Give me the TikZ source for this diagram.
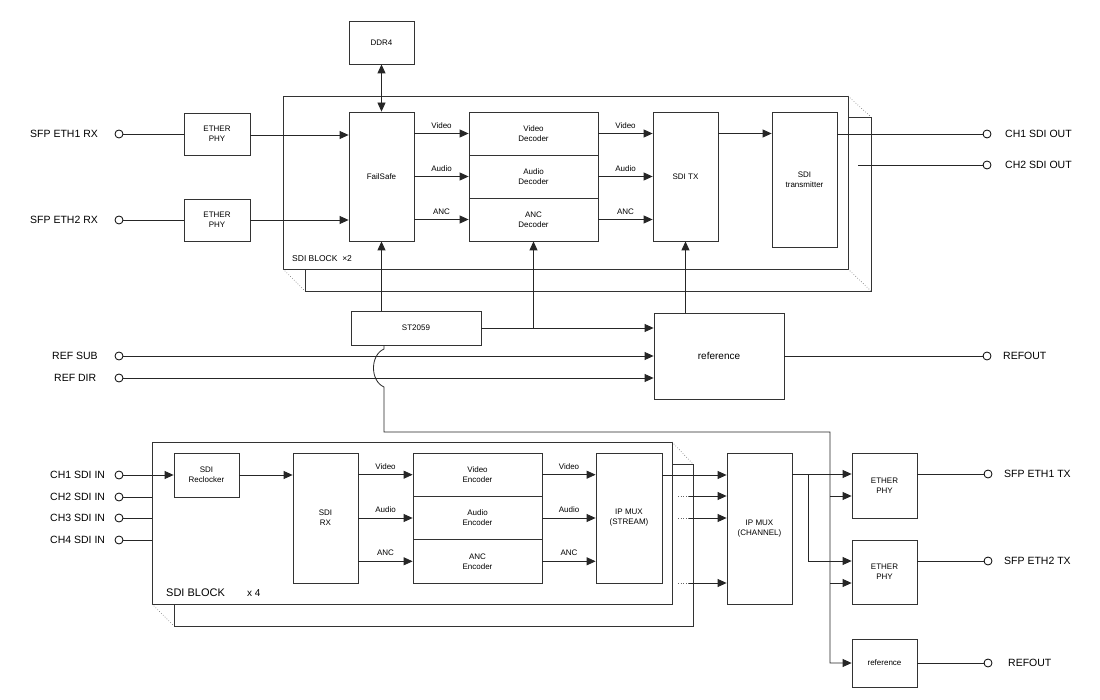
\documentclass[tikz,border=0pt]{standalone}
\usepackage{fontspec}
\setmainfont{Liberation Sans}
\usetikzlibrary{arrows.meta,calc}
\begin{document}
\begin{tikzpicture}[x=1pt,y=-1pt,
  box/.style={draw=black!80,fill=white,line width=0.8pt,inner sep=0pt,align=center,font=\fontsize{8}{10}\selectfont},
  frame/.style={draw=black!80,fill=white,line width=0.8pt},
  ln/.style={draw=black!85,line width=0.8pt},
  arr/.style={ln,-{Triangle[length=9pt,width=8pt]}},
  darr/.style={ln,{Triangle[length=9pt,width=8pt]}-{Triangle[length=9pt,width=8pt]}},
  port/.style={circle,draw=black,fill=white,line width=0.8pt,minimum size=8pt,inner sep=0pt},
  ext/.style={anchor=west,inner sep=0pt,font=\fontsize{10.5}{12}\selectfont},
  sig/.style={midway,above=5pt,inner sep=0pt,font=\fontsize{8}{10}\selectfont},
  dots/.style={draw=black!60,line width=0.6pt,dotted}
]
\useasboundingbox (0,0) rectangle (1100,700);
% ---------- top SDI block frames ----------
\draw[frame] (305,117) rectangle (871,291);
\draw[frame] (283,96) rectangle (848,269);
\draw[dots] (283,269) -- (305,291);
\draw[dots] (848,96) -- (871,117);
\draw[dots] (848,269) -- (871,291);
\node[anchor=west,inner sep=0pt,font=\fontsize{8.5}{10}\selectfont] (blk1) at (292,259) {SDI BLOCK~~×2};
% ---------- bottom SDI block frames ----------
\draw[frame] (174,464) rectangle (693,626);
\draw[frame] (152,442) rectangle (672,604);
\draw[dots] (152,604) -- (174,626);
\draw[dots] (672,442) -- (693,464);
\node[anchor=west,inner sep=0pt,font=\fontsize{11}{12}\selectfont] (blk2) at (166,593) {SDI BLOCK};
\node[anchor=west,inner sep=0pt,font=\fontsize{10}{12}\selectfont] (blk2x) at (247,593) {x 4};
% ---------- top boxes ----------
\node[box,minimum width=65,minimum height=43] (ddr) at (381.5,42.5) {DDR4};
\node[box,minimum width=65,minimum height=129] (fs) at (381.5,176.5) {FailSafe};
\node[box,minimum width=129,minimum height=43] (vdec) at (533.5,133.5) {Video\\Decoder};
\node[box,minimum width=129,minimum height=43] (adec) at (533.5,176.5) {Audio\\Decoder};
\node[box,minimum width=129,minimum height=43] (ancdec) at (533.5,219.5) {ANC\\Decoder};
\node[box,minimum width=65,minimum height=129] (sditx) at (685.5,176.5) {SDI TX};
\node[box,minimum width=65,minimum height=135] (sditr) at (804.5,179.5) {SDI\\transmitter};
\node[box,minimum width=66,minimum height=42] (eph1) at (217,134) {ETHER\\PHY};
\node[box,minimum width=66,minimum height=42] (eph2) at (217,220) {ETHER\\PHY};
\node[box,minimum width=130,minimum height=34] (st) at (416,328) {ST2059};
\node[box,minimum width=130,minimum height=86,font=\fontsize{10}{12}\selectfont] (ref) at (719,356) {reference};
% ---------- bottom boxes ----------
\node[box,minimum width=65,minimum height=44] (reclk) at (206.5,475) {SDI\\Reclocker};
\node[box,minimum width=65,minimum height=130] (sdirx) at (325.5,518) {SDI\\RX};
\node[box,minimum width=129,minimum height=43.3] (venc) at (477.5,474.7) {Video\\Encoder};
\node[box,minimum width=129,minimum height=43.3] (aenc) at (477.5,518) {Audio\\Encoder};
\node[box,minimum width=129,minimum height=43.3] (ancenc) at (477.5,561.3) {ANC\\Encoder};
\node[box,minimum width=66,minimum height=130] (ipms) at (629,518) {IP MUX\\(STREAM)};
\node[box,minimum width=65,minimum height=151] (ipmc) at (759.5,528.5) {IP MUX\\(CHANNEL)};
\node[box,minimum width=65,minimum height=65] (etx1) at (884.5,485.5) {ETHER\\PHY};
\node[box,minimum width=65,minimum height=64] (etx2) at (884.5,572) {ETHER\\PHY};
\node[box,minimum width=65,minimum height=48] (refs) at (884.5,663) {reference};
% ---------- ports ----------
\node[port] (pr1) at (119,134) {};
\node[port] (pr2) at (119,220) {};
\node[port] (psub) at (119,356) {};
\node[port] (pdir) at (119,378) {};
\node[port] (pin1) at (119,475) {};
\node[port] (pin2) at (119,497) {};
\node[port] (pin3) at (119,518) {};
\node[port] (pin4) at (119,540) {};
\node[port] (pout1) at (987,134) {};
\node[port] (pout2) at (987,165) {};
\node[port] (prefo) at (987,356) {};
\node[port] (ptx1) at (988,474) {};
\node[port] (ptx2) at (988,561) {};
\node[port] (prefo2) at (988,663) {};
% ---------- port labels ----------
\node[ext] (lr1) at (30,134) {SFP ETH1 RX};
\node[ext] (lr2) at (30,220) {SFP ETH2 RX};
\node[ext] (lsub) at (52,356) {REF SUB};
\node[ext] (ldir) at (54,378) {REF DIR};
\node[ext] (lin1) at (50,475) {CH1~SDI IN};
\node[ext] (lin2) at (50,497) {CH2~SDI IN};
\node[ext] (lin3) at (50,518) {CH3~SDI IN};
\node[ext] (lin4) at (50,540) {CH4~SDI IN};
\node[ext] (lo1) at (1005,134) {CH1 SDI OUT};
\node[ext] (lo2) at (1005,165) {CH2 SDI OUT};
\node[ext] (lro) at (1003,356) {REFOUT};
\node[ext] (lt1) at (1004,474) {SFP ETH1 TX};
\node[ext] (lt2) at (1004,561) {SFP ETH2 TX};
\node[ext] (lro2) at (1008,663) {REFOUT};
% ---------- top connectors ----------
\draw[ln] (pr1) -- (eph1.west |- pr1);
\draw[ln] (pr2) -- (eph2.west |- pr2);
\draw[arr] (eph1.east |- 0,135) -- (fs.west |- 0,135);
\draw[arr] (eph2.east) -- (fs.west |- eph2.east);
\draw[darr] (ddr.south) -- (fs.north);
\draw[arr] (fs.east |- vdec.west) -- (vdec.west) node[sig] {Video};
\draw[arr] (fs.east |- adec.west) -- (adec.west) node[sig] {Audio};
\draw[arr] (fs.east |- ancdec.west) -- (ancdec.west) node[sig] {ANC};
\draw[arr] (vdec.east) -- (sditx.west |- vdec.east) node[sig] {Video};
\draw[arr] (adec.east) -- (sditx.west |- adec.east) node[sig] {Audio};
\draw[arr] (ancdec.east) -- (sditx.west |- ancdec.east) node[sig] {ANC};
\draw[arr] (sditx.east |- vdec.east) -- (sditr.west |- vdec.east);
\draw[ln] (sditr.east |- pout1) -- (pout1);
\coordinate (o2start) at (858,165);
\draw[ln] (o2start) -- (pout2);
\draw[arr] (st.north -| fs.south) -- (fs.south);
\draw[arr] (st.east) -- (st.east -| ref.west);
\draw[arr] (st.east -| ancdec.south) -- (ancdec.south);
\draw[arr] (ref.north -| sditx.south) -- (sditx.south);
\draw[arr] (psub) -- (ref.west |- psub);
\draw[arr] (pdir) -- (ref.west |- pdir);
\draw[ln] (ref.east |- prefo) -- (prefo);
% ST2059 to bottom reference with hop
\coordinate (hop) at (384,0);
\coordinate (tap) at (830,432);
\draw[arr] (st.south -| hop) -- (384,349) .. controls (370,355) and (370,381) .. (384,387)
  -- (384,432) -- (tap) -- (tap |- refs.west) -- (refs.west);
\draw[arr] (tap |- 0,496) -- (etx1.west |- 0,496);
\draw[arr] (tap |- 0,583) -- (etx2.west |- 0,583);
% ---------- bottom connectors ----------
\draw[arr] (pin1) -- (reclk.west |- pin1);
\draw[ln] (pin2) -- (152,497);
\draw[ln] (pin3) -- (152,518);
\draw[ln] (pin4) -- (152,540);
\draw[arr] (reclk.east) -- (sdirx.west |- reclk.east);
\draw[arr] (sdirx.east |- venc.west) -- (venc.west) node[sig] {Video};
\draw[arr] (sdirx.east |- aenc.west) -- (aenc.west) node[sig] {Audio};
\draw[arr] (sdirx.east |- ancenc.west) -- (ancenc.west) node[sig] {ANC};
\draw[arr] (venc.east) -- (ipms.west |- venc.east) node[sig] {Video};
\draw[arr] (aenc.east) -- (ipms.west |- aenc.east) node[sig] {Audio};
\draw[arr] (ancenc.east) -- (ipms.west |- ancenc.east) node[sig] {ANC};
\draw[arr] (ipms.east |- 0,475) -- (ipmc.west |- 0,475);
\foreach \yy in {496,518,583} {
  \draw[dots] (678,\yy) -- (689,\yy);
  \draw[arr] (689,\yy) -- (ipmc.west |- 0,\yy);
}
\coordinate (br) at (808,474);
\draw[arr] (ipmc.east |- br) -- (etx1.west |- br);
\draw[arr] (br) -- (br |- 0,561) -- (etx2.west |- 0,561);
\draw[ln] (etx1.east |- ptx1) -- (ptx1);
\draw[ln] (etx2.east |- ptx2) -- (ptx2);
\draw[ln] (refs.east) -- (prefo2);
\end{tikzpicture}
\end{document}
